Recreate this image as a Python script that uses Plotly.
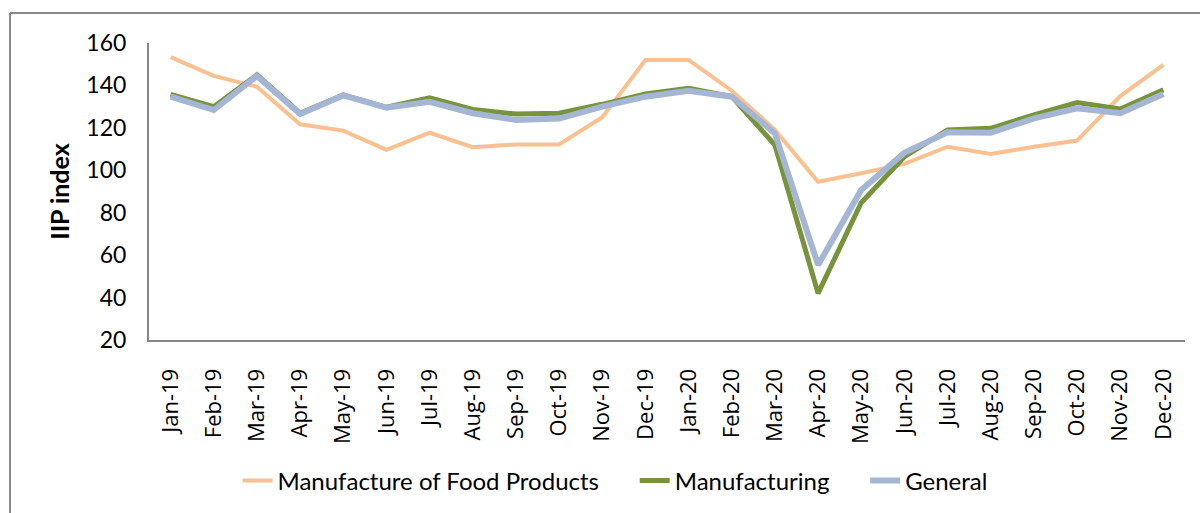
import plotly.graph_objects as go

months = ["Jan-19", "Feb-19", "Mar-19", "Apr-19", "May-19", "Jun-19", "Jul-19", "Aug-19",
          "Sep-19", "Oct-19", "Nov-19", "Dec-19", "Jan-20", "Feb-20", "Mar-20", "Apr-20",
          "May-20", "Jun-20", "Jul-20", "Aug-20", "Sep-20", "Oct-20", "Nov-20", "Dec-20"]

food = [153.3, 144.5, 139.4, 121.7, 118.7, 109.6, 117.7, 110.9, 112.2, 112.2, 125.0, 152.0,
        152.0, 137.5, 119.0, 94.6, 98.6, 103.0, 111.1, 107.7, 111.1, 114.0, 135.0, 149.7]
manufacturing = [135.8, 130.0, 145.0, 126.9, 135.5, 129.7, 134.2, 128.7, 126.5, 126.9, 131.1, 136.0,
                 138.6, 134.7, 111.9, 42.0, 84.7, 106.4, 119.0, 119.8, 126.1, 131.9, 128.9, 137.9]
general = [134.7, 128.4, 144.5, 126.5, 135.3, 129.5, 132.3, 126.9, 123.7, 124.4, 130.0, 134.7,
           137.5, 134.7, 117.4, 55.4, 90.7, 108.3, 117.9, 117.7, 124.5, 129.2, 126.9, 136.0]

FONT = "Lato"
NB = "\u00a0"

fig = go.Figure()
fig.add_trace(go.Scatter(x=months, y=food, mode="lines", name="Manufacture of Food Products" + NB * 5,
                         line=dict(color="#FAC090", width=4)))
fig.add_trace(go.Scatter(x=months, y=manufacturing, mode="lines", name="Manufacturing" + NB * 5,
                         line=dict(color="#77933C", width=5)))
fig.add_trace(go.Scatter(x=months, y=general, mode="lines", name="General",
                         line=dict(color="#A5B6D5", width=6)))

W, H = 1200, 513
L, R, T, B = 149, 15, 43, 173
pw, ph = W - L - R, H - T - B

def px(x):
    return (x - L) / pw

def py(y):
    return (H - B - y) / ph

fig.update_layout(
    width=W, height=H,
    margin=dict(l=L, r=R, t=T, b=B, autoexpand=False),
    paper_bgcolor="white", plot_bgcolor="white",
    font=dict(family=FONT, size=22, color="black"),
    showlegend=True,
    legend=dict(orientation="h", x=px(615), xanchor="center", y=py(481), yanchor="middle",
                font=dict(family=FONT, size=24), traceorder="normal"),
    xaxis=dict(showgrid=False, showline=True, linecolor="#868686", linewidth=2,
               tickangle=-90, tickfont=dict(family="Open Sans", size=22), ticks="",
               ticklabelstandoff=18, range=[-0.5, 23.5], automargin=False),
    yaxis=dict(showgrid=False, showline=True, linecolor="#868686", linewidth=2,
               range=[20, 160], dtick=20, tick0=20, ticks="", automargin=False,
               tickfont=dict(family=FONT, size=23), ticklabelstandoff=16,
               title=dict(text="<b>IIP index</b>", font=dict(family=FONT, size=25), standoff=10)),
    shapes=[
        dict(type="line", xref="paper", yref="paper", x0=px(10), x1=px(1200), y0=py(13), y1=py(13),
             line=dict(color="#898989", width=2)),
        dict(type="line", xref="paper", yref="paper", x0=px(10), x1=px(10), y0=py(13), y1=py(513),
             line=dict(color="#898989", width=2)),
    ],
)

fig.write_html("out.html", config={"displayModeBar": False},
               post_script="document.body.style.margin='0';document.body.style.overflow='hidden';")
